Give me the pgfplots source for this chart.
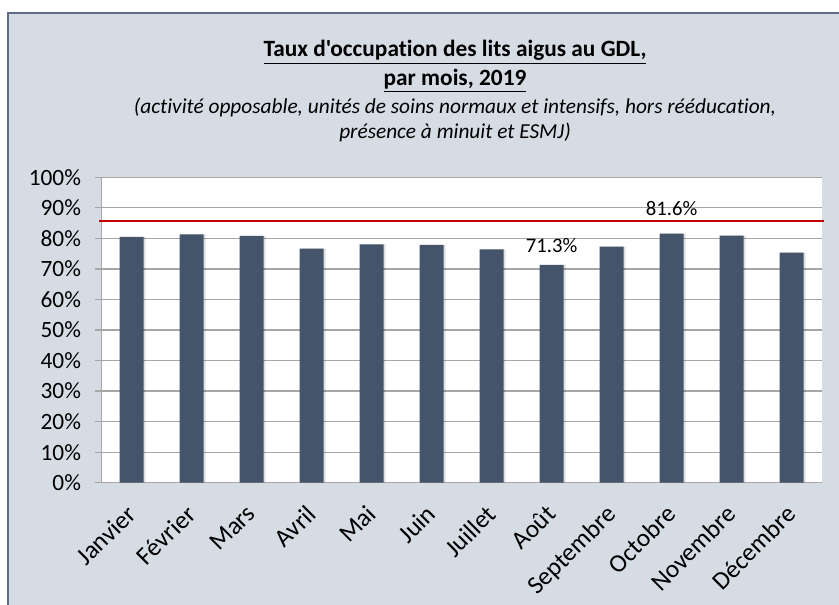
\documentclass[border=0pt]{standalone}
\usepackage{pgfplots}
\pgfplotsset{compat=1.18}
\usepackage{fontspec}
\setmainfont{Carlito}[Ligatures={TeXOff,NoCommon}]

\definecolor{bgc}{HTML}{D6DCE4}
\definecolor{barc}{HTML}{44546A}
\definecolor{framec}{HTML}{5B6C84}
\definecolor{gridc}{HTML}{A6A6A6}
\definecolor{redl}{HTML}{C00000}

\begin{document}
\begin{tikzpicture}[x=0.75pt,y=0.75pt]
\useasboundingbox (0,0) rectangle (839,605);
\fill[bgc] (8,0) rectangle (839,592);
\draw[framec, line width=1.1pt] (8,0) -- (8,592) -- (839,592);

% titles (image y measured from top)
\node[anchor=base, font=\fontsize{17.5}{20}\selectfont\bfseries] at (455,548)
  {\underline{Taux d'occupation des lits aigus au GDL,}};
\node[anchor=base, font=\fontsize{17.5}{20}\selectfont\bfseries] at (455,519)
  {\underline{par mois, 2019}};
\node[anchor=base, font=\fontsize{16}{19}\selectfont\itshape] at (455,491)
  {(activité opposable, unités de soins normaux et intensifs, hors rééducation,};
\node[anchor=base, font=\fontsize{16}{19}\selectfont\itshape] at (455,466)
  {présence à minuit et ESMJ)};

\begin{axis}[
    at={(76.275pt,91.725pt)}, anchor=south west,
    scale only axis, width=540pt, height=229pt,
    xmin=0.5, xmax=12.5, ymin=0, ymax=100,
    axis background/.style={fill=white},
    axis lines=left,
    axis line style={draw=gridc, line width=0.9pt, -},
    ytick={0,10,...,100},
    yticklabel={\pgfmathprintnumber{\tick}\%},
    /pgf/number format/assume math mode=true,
    ymajorgrids, grid style={gridc, line width=0.9pt},
    tick align=outside, major tick length=5pt,
    tick style={draw=gridc, line width=0.9pt},
    xtick={1,...,12},
    xtick style={draw=none},
    xticklabels={Janvier,Février,Mars,Avril,Mai,Juin,Juillet,Août,Septembre,Octobre,Novembre,Décembre},
    xticklabel style={xshift=-5pt, yshift=-9pt, rotate=45, anchor=north east, inner sep=1pt,
        font=\fontsize{19}{22}\selectfont},
    yticklabel style={xshift=-7pt, font=\fontsize{17.5}{20}\selectfont},
    extra x ticks={0.5,1.5,...,12.5},
    extra x tick labels={},
    extra x tick style={tick style={draw=gridc, line width=0.9pt}},
    clip=false,
]
% soft shadow
\addplot[ybar, bar width=18pt, bar shift=1.5pt, fill=black, draw=none, opacity=0.12]
  coordinates {(1,80.5) (2,81.35) (3,80.85) (4,76.65) (5,78.05) (6,77.85)
               (7,76.45) (8,71.3) (9,77.35) (10,81.6) (11,80.95) (12,75.35)};
\addplot[ybar, bar width=18pt, bar shift=0pt, fill=barc, draw=none]
  coordinates {(1,80.5) (2,81.35) (3,80.85) (4,76.65) (5,78.05) (6,77.85)
               (7,76.45) (8,71.3) (9,77.35) (10,81.6) (11,80.95) (12,75.35)};
\addplot[redl, line width=1.5pt] coordinates {(0.455,85.8) (12.54,85.8)};
\node[font=\fontsize{15.5}{18}\selectfont] at (axis cs:8,77.8) {71.3\%};
\node[font=\fontsize{15.5}{18}\selectfont] at (axis cs:10,89.7) {81.6\%};
\end{axis}
\end{tikzpicture}
\end{document}
